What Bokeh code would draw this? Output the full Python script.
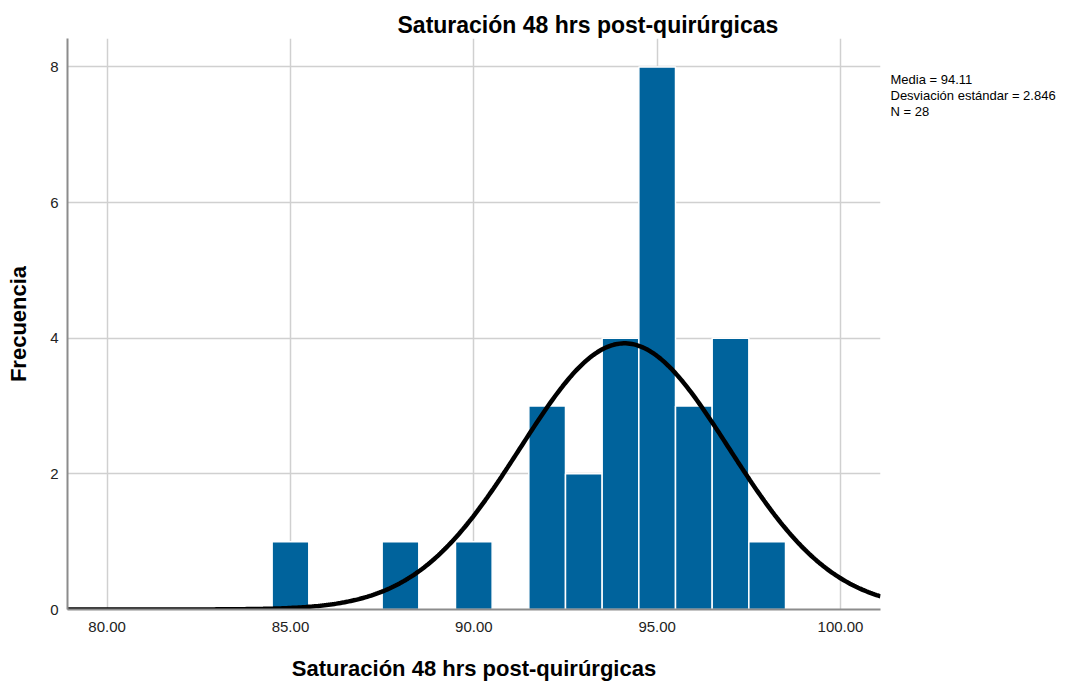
import numpy as np
from bokeh.plotting import figure
from bokeh.layouts import row
from bokeh.models import FixedTicker, NumeralTickFormatter, Range1d
from bokeh.core.properties import value
from bokeh.embed import file_html
from bokeh.resources import INLINE

# Histogram data (bin centers, bin width 1)
bin_centers = [85, 88, 90, 92, 93, 94, 95, 96, 97, 98]
frequencies = [1, 1, 1, 3, 2, 4, 8, 3, 4, 1]
mean_val = 94.11
sd_val = 2.846
n_val = 28
bin_width = 1.0
x_ticks = [80, 85, 90, 95, 100]
y_ticks = [0, 2, 4, 6, 8]
title_text = "Saturación 48 hrs post-quirúrgicas"
stats_lines = ["Media = 94.11", "Desviación estándar = 2.846", "N = 28"]

FONT = "Liberation Sans"
x0, x1 = 78.92, 101.09

p = figure(
    output_backend="svg", toolbar_location=None,
    frame_width=813, frame_height=571,
    min_border_left=67, min_border_top=38, min_border_right=5, min_border_bottom=72,
    x_range=Range1d(x0, x1), y_range=Range1d(0, 8.42),
    background_fill_color="white", border_fill_color="white",
    title=title_text,
)
p.outline_line_color = None
p.title.align = "left"
p.title.offset = 330
p.title.standoff = 1
p.title.text_font = FONT
p.title.text_font_style = "bold"
p.title.text_font_size = "23px"
p.title.text_color = "black"

p.vbar(x=bin_centers, top=frequencies, width=bin_width, bottom=0,
       fill_color="#00639C", line_color="white", line_width=1.5)

xs = np.linspace(x0, x1, 400)
ys = n_val * bin_width / (sd_val * np.sqrt(2 * np.pi)) * np.exp(-0.5 * ((xs - mean_val) / sd_val) ** 2)
p.line(xs, ys, line_color="black", line_width=4.5)

for ax in (p.xaxis[0], p.yaxis[0]):
    ax.major_tick_out = 0
    ax.major_tick_in = 0
    ax.minor_tick_out = 0
    ax.minor_tick_in = 0
    ax.axis_line_color = "#8c8c8c"
    ax.axis_line_width = 2
    ax.major_label_text_font = FONT
    ax.major_label_text_font_size = "15px"
    ax.major_label_text_color = "#222222"
    ax.axis_label_text_font = FONT
    ax.axis_label_text_font_style = "bold"
    ax.axis_label_text_font_size = "22px"
    ax.axis_label_text_color = "black"

p.xaxis.ticker = FixedTicker(ticks=x_ticks)
p.xaxis.formatter = NumeralTickFormatter(format="0.00")
p.xaxis.major_label_standoff = 12
p.xaxis.axis_label = title_text
p.xaxis.axis_label_standoff = 21

p.yaxis.ticker = FixedTicker(ticks=y_ticks)
p.yaxis.major_label_standoff = 9
p.yaxis.axis_label = "Frecuencia"
p.yaxis.axis_label_standoff = 16

p.grid.grid_line_color = "#d0d0d0"
p.grid.grid_line_width = 1.5

# side panel for statistics text (frame aligned with main plot; y in page pixels)
p2 = figure(
    output_backend="svg", toolbar_location=None,
    frame_width=202, frame_height=571,
    min_border_left=0, min_border_right=0, min_border_top=38, min_border_bottom=72,
    x_range=Range1d(0, 202), y_range=Range1d(609, 38),
    x_axis_location=None, y_axis_location=None,
    background_fill_color="white", border_fill_color="white",
)
p2.outline_line_color = None
p2.grid.visible = False
line_y = [79 + 16 * i for i in range(len(stats_lines))]
p2.text(x=[5] * len(stats_lines), y=line_y, text=stats_lines,
        text_font=value(FONT), text_font_size="13px", text_color="black",
        text_baseline="alphabetic", text_align="left")

layout = row(p, p2)
open("out.html", "w").write(file_html(layout, INLINE))
